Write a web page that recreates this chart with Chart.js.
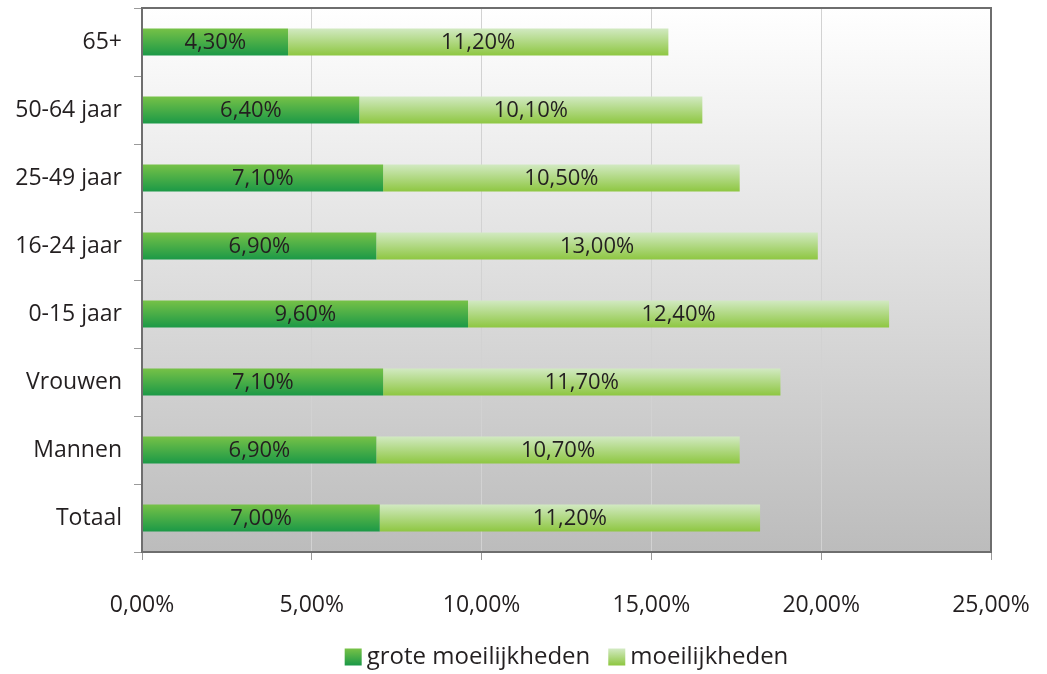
<!DOCTYPE html>
<html>
<head>
<meta charset="utf-8">
<script src="https://cdn.jsdelivr.net/npm/chart.js@4/dist/chart.umd.min.js"></script>
<style>
  html, body { margin: 0; padding: 0; background: #fff; }
  #wrap { width: 1047px; height: 674px; }
</style>
</head>
<body>
<div id="wrap"><canvas id="chart" width="1047" height="674"></canvas></div>
<script>
const categories = ['65+', '50-64 jaar', '25-49 jaar', '16-24 jaar', '0-15 jaar', 'Vrouwen', 'Mannen', 'Totaal'];
const groteMoeilijkheden = [4.3, 6.4, 7.1, 6.9, 9.6, 7.1, 6.9, 7.0];
const moeilijkheden = [11.2, 10.1, 10.5, 13.0, 12.4, 11.7, 10.7, 11.2];
const xTicks = [0, 5, 10, 15, 20, 25];

const FONT = '"Open Sans", "DejaVu Sans", sans-serif';
const TEXT = '#231f20';
const SWATCHES = [['#78c247', '#1a9847'], ['#d3eac4', '#8dc63f']];

function pct(v) {
  return v.toFixed(2).replace('.', ',') + '%';
}

function vGradient(c2d, y0, y1, top, bottom) {
  const g = c2d.createLinearGradient(0, y0, 0, y1);
  g.addColorStop(0, top);
  g.addColorStop(1, bottom);
  return g;
}

// vertical gradient per bar, built from the y scale position of its category
function barFill(top, bottom) {
  return (c) => {
    const yScale = c.chart.scales.y;
    if (c.type !== 'data' || !yScale) return bottom;
    const yc = yScale.getPixelForValue(c.dataIndex);
    if (!Number.isFinite(yc)) return bottom;
    return vGradient(c.chart.ctx, yc - 14, yc + 14, top, bottom);
  };
}

const plotBackground = {
  id: 'plotBackground',
  beforeDraw(chart) {
    const { ctx, chartArea: a } = chart;
    ctx.save();
    ctx.fillStyle = vGradient(ctx, a.top, a.bottom, '#ffffff', '#bcbcbc');
    ctx.fillRect(a.left, a.top, a.right - a.left, a.bottom - a.top);
    ctx.restore();
  },
  afterDraw(chart) {
    const { ctx, chartArea: a } = chart;
    ctx.save();
    ctx.strokeStyle = '#6e6e6e';
    ctx.lineWidth = 2;
    ctx.strokeRect(a.left, a.top, a.right - a.left, a.bottom - a.top);
    ctx.restore();
  },
};

const barLabels = {
  id: 'barLabels',
  afterDatasetsDraw(chart) {
    const { ctx } = chart;
    ctx.save();
    ctx.font = '22px ' + FONT;
    ctx.fillStyle = TEXT;
    ctx.textAlign = 'center';
    ctx.textBaseline = 'middle';
    chart.data.datasets.forEach((ds, di) => {
      const meta = chart.getDatasetMeta(di);
      meta.data.forEach((bar, i) => {
        ctx.fillText(pct(ds.data[i]), (bar.x + bar.base) / 2, bar.y + 1);
      });
    });
    ctx.restore();
  },
};

// legend drawn by hand: tight gap between swatch and text like the original
const bottomLegend = {
  id: 'bottomLegend',
  afterDraw(chart) {
    const { ctx, chartArea: a } = chart;
    const y = 657;
    const box = 17;
    const gap = 5;
    const between = 18;
    ctx.save();
    ctx.font = '24px ' + FONT;
    ctx.textBaseline = 'middle';
    ctx.textAlign = 'left';
    const items = chart.data.datasets.map((ds, i) => ({ label: ds.label, sw: SWATCHES[i], w: ctx.measureText(ds.label).width }));
    const total = items.reduce((s, it) => s + box + gap + it.w, 0) + between * (items.length - 1);
    let x = (a.left + a.right - total) / 2;
    items.forEach(({ label, sw, w }) => {
      ctx.fillStyle = vGradient(ctx, y - box / 2, y + box / 2, sw[0], sw[1]);
      ctx.fillRect(x, y - box / 2, box, box);
      x += box + gap;
      ctx.fillStyle = TEXT;
      ctx.fillText(label, x, y);
      x += w + between;
    });
    ctx.restore();
  },
};

const ctx = document.querySelector('#chart').getContext('2d');
// eslint-disable-next-line no-undef
new Chart(ctx, {
  type: 'bar',
  data: {
    labels: categories,
    datasets: [
      {
        label: 'grote moeilijkheden',
        data: groteMoeilijkheden,
        backgroundColor: barFill(SWATCHES[0][0], SWATCHES[0][1]),
      },
      {
        label: 'moeilijkheden',
        data: moeilijkheden,
        backgroundColor: barFill(SWATCHES[1][0], SWATCHES[1][1]),
      },
    ],
  },
  options: {
    indexAxis: 'y',
    responsive: false,
    animation: false,
    layout: { padding: { left: 0, right: 56, top: 8, bottom: 40 } },
    datasets: { bar: { categoryPercentage: 1, barPercentage: 0.4, borderWidth: 0 } },
    scales: {
      x: {
        stacked: true,
        min: 0,
        max: 25,
        afterBuildTicks(scale) {
          scale.ticks = xTicks.map((v) => ({ value: v }));
        },
        afterFit(scale) {
          scale.height = 82;
          scale.paddingLeft = 0;
          scale.paddingRight = 0;
        },
        border: { display: false },
        grid: { color: '#d2d2d2', lineWidth: 1, tickLength: 8, tickColor: '#9a9a9a' },
        ticks: {
          callback: (v) => pct(v),
          color: TEXT,
          padding: 32,
          maxRotation: 0,
          font: { family: FONT, size: 23 },
        },
      },
      y: {
        stacked: true,
        afterFit(scale) {
          scale.width = 142;
          scale.paddingTop = 0;
          scale.paddingBottom = 0;
        },
        border: { display: false },
        grid: { drawOnChartArea: false, offset: true, tickLength: 8, tickColor: '#9a9a9a' },
        ticks: {
          color: TEXT,
          padding: 12,
          font: { family: FONT, size: 23 },
        },
      },
    },
    plugins: {
      legend: { display: false },
      tooltip: { enabled: false },
    },
  },
  plugins: [plotBackground, barLabels, bottomLegend],
});
</script>
</body>
</html>
